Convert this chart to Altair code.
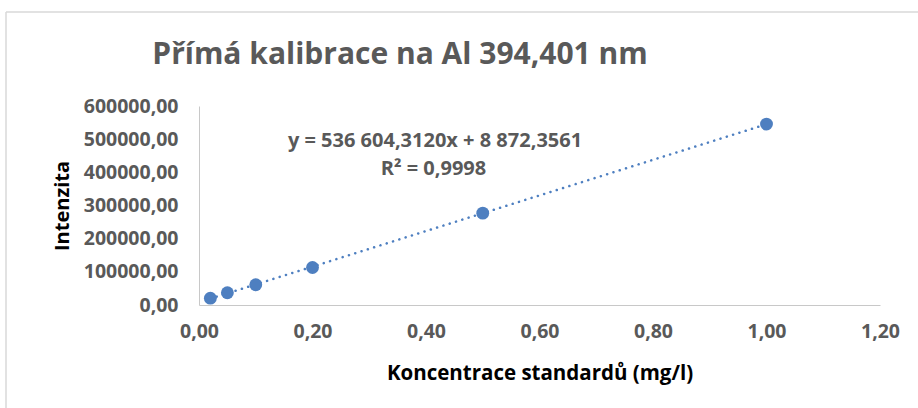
import altair as alt
import pandas as pd

conc = [0.02, 0.05, 0.10, 0.20, 0.50, 1.00]
intensity = [20500, 37000, 61000, 113000, 277000, 545500]
x_ticks = [0, 0.2, 0.4, 0.6, 0.8, 1.0, 1.2]
y_ticks = [0, 100000, 200000, 300000, 400000, 500000, 600000]
title_text = "Přímá  kalibrace na Al 394,401 nm"
eq_text = "y = 536 604,3120x + 8 872,3561"
r2_text = "R² = 0,9998"
x_title = "Koncentrace standardů (mg/l)"
y_title = "Intenzita"

df = pd.DataFrame({"c": conc, "i": intensity})

FONT = "Open Sans"
GRAY = "#595959"
BLUE = "#4e7fc0"

lbl = "replace(format(datum.value, '.2f'), '.', ',')"

x = alt.X("c:Q", scale=alt.Scale(domain=[0, 1.2], nice=False),
          axis=alt.Axis(values=x_ticks, labelExpr=lbl, title=x_title, grid=False,
                        ticks=False, labelPadding=17, labelFontSize=19.5,
                        labelFlush=False, labelOverlap=False,
                        labelFont=FONT, labelFontWeight="bold", labelColor=GRAY,
                        titleFont=FONT, titleFontSize=20.5, titleFontWeight="bold",
                        titleColor="#000000", titleX=340.5, titleY=68,
                        titleBaseline="middle", domainColor="#c8c8c8"))
y = alt.Y("i:Q", scale=alt.Scale(domain=[0, 600000], nice=False),
          axis=alt.Axis(values=y_ticks, labelExpr=lbl, title=y_title, grid=False,
                        ticks=False, labelPadding=21, labelFontSize=19.5,
                        labelFlush=False, labelOverlap=False,
                        labelFont=FONT, labelFontWeight="bold", labelColor=GRAY,
                        titleFont=FONT, titleFontSize=20, titleFontWeight="bold",
                        titleColor="#000000", titleX=-137, titleY=99.5,
                        titleAngle=-90, titleAlign="center", titleBaseline="middle",
                        domainColor="#c8c8c8"))

base = alt.Chart(df)

trend = base.transform_regression("c", "i", method="linear").mark_line(
    color=BLUE, strokeWidth=2.5, strokeDash=[0.1, 6.5], strokeCap="round"
).encode(x=x, y=y)

pts = base.mark_circle(size=165, color=BLUE, opacity=1).encode(x=x, y=y)

eq = alt.Chart(pd.DataFrame({"t": [eq_text]})).mark_text(
    font=FONT, fontSize=20, fontWeight="bold", color=GRAY, align="center", baseline="alphabetic"
).encode(text="t:N", x=alt.value(236), y=alt.value(41))
r2 = alt.Chart(pd.DataFrame({"t": [r2_text]})).mark_text(
    font=FONT, fontSize=20, fontWeight="bold", color=GRAY, align="center", baseline="alphabetic"
).encode(text="t:N", x=alt.value(234.5), y=alt.value(69))

ttl = alt.Chart(pd.DataFrame({"t": [title_text]})).mark_text(
    font=FONT, fontSize=30, fontWeight="bold", color=GRAY, align="center", baseline="alphabetic"
).encode(text="t:N", x=alt.value(201), y=alt.value(-42))

frame_left = alt.Chart(pd.DataFrame({"a": [0]})).mark_rule(color="#d9d9d9", strokeWidth=1.5).encode(
    x=alt.value(-193), y=alt.value(-94), y2=alt.value(400))
frame_top = alt.Chart(pd.DataFrame({"a": [0]})).mark_rule(color="#d9d9d9", strokeWidth=1.5).encode(
    x=alt.value(-193), x2=alt.value(800), y=alt.value(-94))

chart = alt.layer(frame_left, frame_top, trend, pts, eq, r2, ttl).properties(
    width=681, height=199,
    autosize=alt.AutoSizeParams(type="none"),
    padding={"left": 199, "top": 106, "right": 38, "bottom": 103},
    background="white",
).configure_view(stroke=None)

chart.save("out.html", embed_options={"renderer": "svg", "actions": False})
